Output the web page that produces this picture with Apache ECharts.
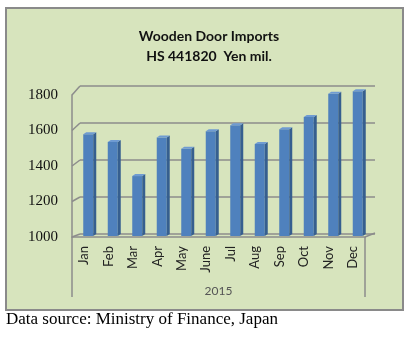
<!DOCTYPE html>
<html>
<head>
<meta charset="utf-8">
<script src="https://cdn.jsdelivr.net/npm/echarts@6/dist/echarts.min.js"></script>
<style>
  html, body { margin: 0; padding: 0; background: #ffffff; }
  #box { position: absolute; left: 5px; top: 7px; width: 395px; height: 300px;
         background: #d7e4bd; border: 2px solid #8a8a8a; }
  #chart { position: absolute; left: 0; top: 0; width: 413px; height: 338px; }
</style>
</head>
<body>
<div id="box"></div>
<div id="chart"></div>
<script>
const months = ['Jan','Feb','Mar','Apr','May','June','Jul','Aug','Sep','Oct','Nov','Dec'];
const imports = [1550, 1508, 1324, 1533, 1472, 1566, 1598, 1497, 1577, 1643, 1769, 1782];
const yTicks = [1000, 1200, 1400, 1600, 1800];
const yearLabel = '2015';
const titleText = 'Wooden Door Imports\nHS 441820  Yen mil.';
const sourceText = 'Data source: Ministry of Finance, Japan';

const yMin = yTicks[0], yMax = yTicks[yTicks.length - 1], yStep = yTicks[1] - yTicks[0];
const gridColor = '#8c8c8c';

const chart = echarts.init(document.getElementById('chart'), null, { renderer: 'canvas' });

const option = {
  backgroundColor: 'transparent',
  animation: false,
  title: {
    text: titleText,
    left: 204, top: 21, textAlign: 'center',
    textStyle: { fontFamily: 'Lato', fontWeight: 'bold', fontSize: 14, lineHeight: 20, color: '#111' }
  },
  grid: [
    { left: 72, width: 293, top: 95, height: 142 },   // front axis
    { left: 80, width: 295, top: 86, height: 148 },   // back wall
    { left: 76, width: 294, top: 86, height: 148 }    // bars
  ],
  xAxis: [
    { gridIndex: 0, type: 'category', data: months,
      axisLine: { lineStyle: { color: gridColor, width: 1.5 } },
      axisTick: { show: false },
      axisLabel: { rotate: 90, margin: 9, fontFamily: 'Lato', fontSize: 13, color: '#222', interval: 0 },
      name: yearLabel, nameLocation: 'middle', nameGap: 48,
      nameTextStyle: { fontFamily: 'Lato', fontSize: 12, color: '#555' } },
    { gridIndex: 1, type: 'category', data: months, show: false },
    { gridIndex: 2, type: 'category', data: months, show: false }
  ],
  yAxis: [
    { gridIndex: 0, type: 'value', min: yMin, max: yMax, interval: yStep,
      axisLine: { show: true, lineStyle: { color: gridColor, width: 1.5 } },
      axisTick: { show: false }, splitLine: { show: false },
      axisLabel: { fontFamily: 'Liberation Serif', fontSize: 15, color: '#111', margin: 14,
                   formatter: function (v) { return String(v); } } },
    { gridIndex: 1, type: 'value', min: yMin, max: yMax, interval: yStep,
      axisLine: { show: false }, axisTick: { show: false }, axisLabel: { show: false },
      splitLine: { show: true, lineStyle: { color: gridColor, width: 1.5 } } },
    { gridIndex: 2, type: 'value', min: yMin, max: yMax, interval: yStep, show: false }
  ],
  graphic: [
    { type: 'text', left: 6, top: 311,
      style: { text: sourceText, font: '17px "Liberation Serif"', fill: '#000' } }
  ],
  series: [
    {
      type: 'custom', name: 'frame', xAxisIndex: 0, yAxisIndex: 0, silent: true,
      data: [[0, yMin]],
      renderItem: function (params, api) {
        const bw = api.size([1, 0])[0];
        const p0 = api.coord([0, yMin]);
        const p11 = api.coord([months.length - 1, yMin]);
        const left = p0[0] - bw / 2, right = p11[0] + bw / 2, yf = p0[1];
        const ls = { stroke: gridColor, lineWidth: 1.5, fill: null };
        const children = [
          { type: 'line', shape: { x1: left, y1: yf, x2: left, y2: yf + 60 }, style: ls },
          { type: 'line', shape: { x1: right, y1: yf, x2: right, y2: yf + 60 }, style: ls },
          { type: 'line', shape: { x1: right, y1: yf, x2: right + 10, y2: yf - 4 }, style: ls }
        ];
        yTicks.forEach(function (v) {
          const q = api.coord([0, v]);
          const dy = 3 + 6 * (v - yMin) / (yMax - yMin);
          children.push({ type: 'line', shape: { x1: left, y1: q[1], x2: left + 8, y2: q[1] - dy }, style: ls });
        });
        return { type: 'group', children: children };
      }
    },
    {
      type: 'custom', name: 'Imports', xAxisIndex: 2, yAxisIndex: 2,
      data: imports.map(function (v, i) { return [i, v]; }),
      renderItem: function (params, api) {
        const p = api.coord([api.value(0), api.value(1)]);
        const b = api.coord([api.value(0), yMin]);
        const cx = p[0], top = p[1], bot = b[1] + 2;
        return { type: 'group', children: [
          { type: 'rect', shape: { x: cx - 5, y: top + 2, width: 10, height: bot - top - 2 },
            style: { fill: '#4f81bd' } },
          { type: 'polygon', shape: { points: [[cx + 5, top + 2], [cx + 8, top], [cx + 8, bot - 2], [cx + 5, bot]] },
            style: { fill: '#365f8f' } },
          { type: 'polygon', shape: { points: [[cx - 5, top + 2], [cx - 2, top], [cx + 8, top], [cx + 5, top + 2]] },
            style: { fill: '#6f9bd2' } }
        ] };
      }
    }
  ]
};
chart.setOption(option);
</script>
</body>
</html>
